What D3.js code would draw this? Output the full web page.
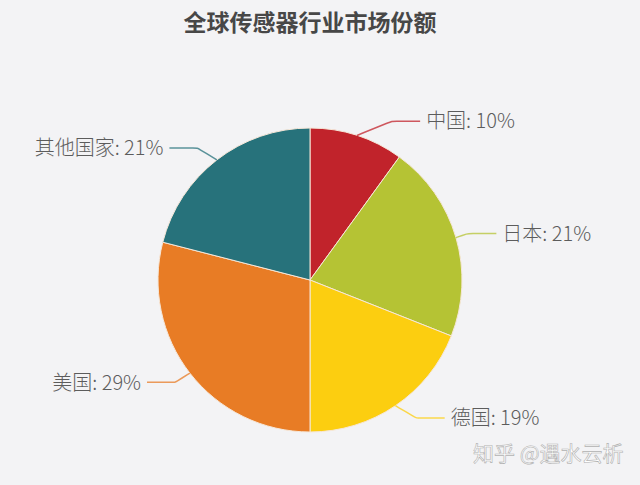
<!DOCTYPE html>
<html>
<head>
<meta charset="utf-8">
<script src="https://cdn.jsdelivr.net/npm/d3@7"></script>
<style>
  body { margin: 0; background: #f3f3f5; }
  svg { display: block; }
</style>
</head>
<body>
<svg id="chart" width="640" height="485"></svg>
<script>
const title = '全球传感器行业市场份额';
const categories = ['中国', '日本', '德国', '美国', '其他国家'];
const shares = [10, 21, 19, 29, 21];
const colors = ['#C1232B', '#B5C334', '#FCCE10', '#E87C25', '#27727B'];
const watermark = '知乎 @遇水云析';

const width = 640;
const height = 485;
const cx = 310;
const cy = 280;
const radius = 152;
const lineLen = 15;
const lineLen2 = 28;

const data = categories.map((name, i) => ({ name, value: shares[i], color: colors[i] }));

const svg = d3.select('#chart');

svg.append('rect')
    .attr('width', width)
    .attr('height', height)
    .attr('fill', '#f3f3f5');

svg.append('text')
    .attr('x', cx)
    .attr('y', 31)
    .attr('text-anchor', 'middle')
    .attr('font-family', '"Noto Sans CJK SC", sans-serif')
    .attr('font-weight', 'bold')
    .attr('font-size', 23)
    .attr('fill', '#474747')
    .text(title);

const pie = d3.pie()
    .sort(null)
    .value(d => d.value);

const arc = d3.arc()
    .innerRadius(0)
    .outerRadius(radius);

const arcs = pie(data);

const g = svg.append('g')
    .attr('transform', `translate(${cx}, ${cy})`);

g.selectAll('path.slice')
    .data(arcs)
    .enter().append('path')
        .attr('class', 'slice')
        .attr('d', arc)
        .attr('fill', d => d.data.color)
        .attr('stroke', '#f6e7d8')
        .attr('stroke-width', 1);

// label layout: radial first segment, then horizontal, x pushed onto a circle
const outer = radius + lineLen + lineLen2;
const labels = arcs.map(d => {
    const mid = (d.startAngle + d.endAngle) / 2;
    const dx = Math.sin(mid);
    const dy = -Math.cos(mid);
    const dir = dx < 0 ? -1 : 1;
    const p1 = [radius * dx, radius * dy];
    const ty = (radius + lineLen) * dy;
    const deltaX = Math.sqrt(outer * outer - ty * ty);
    const p3 = [dir * (deltaX - 3), ty];
    const p2 = [p3[0] - dir * lineLen2, ty];
    return { d, dir, points: [p1, p2, p2, p3], tx: p3[0] + dir * 6, ty };
});

const line = d3.line().curve(d3.curveBasis);

g.selectAll('path.leader')
    .data(labels)
    .enter().append('path')
        .attr('class', 'leader')
        .attr('d', l => line(l.points))
        .attr('fill', 'none')
        .attr('stroke', l => l.d.data.color)
        .attr('stroke-opacity', 0.75)
        .attr('stroke-width', 1.5);

g.selectAll('text.label')
    .data(labels)
    .enter().append('text')
        .attr('class', 'label')
        .attr('x', l => l.tx)
        .attr('y', l => l.ty)
        .attr('dy', '0.36em')
        .attr('text-anchor', l => l.dir < 0 ? 'end' : 'start')
        .attr('font-family', '"Noto Sans CJK SC", sans-serif')
        .attr('font-weight', 300)
        .attr('font-size', 20)
        .attr('fill', '#5c5c5c')
        .text(l => `${l.d.data.name}: ${l.d.data.value}%`);

svg.append('text')
    .attr('x', 473)
    .attr('y', 461)
    .attr('font-family', '"Noto Sans CJK SC", sans-serif')
    .attr('font-size', 21)
    .attr('fill', '#fff')
    .attr('stroke', '#b0b0b0')
    .attr('stroke-width', 0.6)
    .text(watermark);
</script>
</body>
</html>
